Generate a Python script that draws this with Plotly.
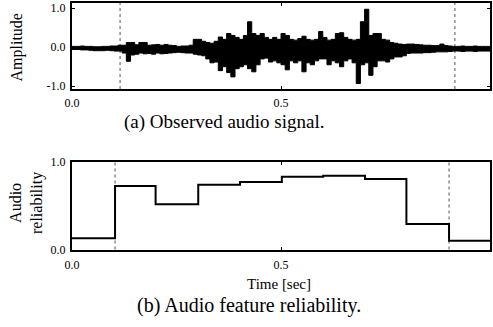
import plotly.graph_objects as go

# ---------------- data ----------------
# Observed audio signal: envelope, one bin every 0.01 s
bin_start = [round(i * 0.01, 2) for i in range(100)]
upper = [0.02, 0.02, 0.03, 0.02, 0.02, 0.01, 0.01, 0.02, 0.02, 0.03,
         0.03, 0.05, 0.05, 0.12, 0.12, 0.06, 0.12, 0.12, 0.05, 0.06,
         0.07, 0.05, 0.07, 0.05, 0.04, 0.02, 0.03, 0.03, 0.05, 0.20,
         0.20, 0.15, 0.12, 0.10, 0.15, 0.26, 0.20, 0.35, 0.30, 0.25,
         0.20, 0.30, 0.65, 0.35, 0.30, 0.35, 0.25, 0.20, 0.25, 0.20,
         0.35, 0.30, 0.20, 0.18, 0.22, 0.28, 0.20, 0.18, 0.20, 0.40,
         0.25, 0.18, 0.20, 0.35, 0.37, 0.25, 0.20, 0.18, 0.20, 0.65,
         0.97, 0.30, 0.35, 0.35, 0.20, 0.18, 0.12, 0.10, 0.08, 0.07,
         0.08, 0.08, 0.07, 0.06, 0.05, 0.05, 0.04, 0.04, 0.08, 0.04,
         0.03, 0.02, 0.02, 0.03, 0.02, 0.02, 0.03, 0.02, 0.02, 0.02]
lower = [-0.06, -0.06, -0.07, -0.07, -0.08, -0.09, -0.09, -0.09, -0.08, -0.09,
         -0.10, -0.10, -0.15, -0.36, -0.20, -0.18, -0.15, -0.17, -0.16, -0.18,
         -0.15, -0.17, -0.16, -0.15, -0.14, -0.13, -0.14, -0.15, -0.15, -0.18,
         -0.20, -0.22, -0.30, -0.40, -0.38, -0.60, -0.50, -0.65, -0.76, -0.55,
         -0.50, -0.45, -0.55, -0.63, -0.45, -0.30, -0.28, -0.38, -0.35, -0.40,
         -0.45, -0.58, -0.35, -0.40, -0.35, -0.63, -0.40, -0.45, -0.35, -0.30,
         -0.30, -0.45, -0.35, -0.40, -0.50, -0.35, -0.30, -0.40, -0.93, -0.45,
         -0.40, -0.72, -0.50, -0.35, -0.35, -0.38, -0.30, -0.25, -0.25, -0.22,
         -0.16, -0.15, -0.15, -0.15, -0.14, -0.14, -0.13, -0.12, -0.12, -0.12,
         -0.11, -0.10, -0.10, -0.11, -0.10, -0.10, -0.11, -0.10, -0.10, -0.10]

# Audio feature reliability (step function)
step_edges = [0.0, 0.103, 0.20, 0.302, 0.402, 0.502, 0.601, 0.701, 0.80, 0.902, 1.0]
reliability = [0.128, 0.726, 0.517, 0.74, 0.771, 0.832, 0.843, 0.806, 0.291, 0.10]

# speech boundary markers (dotted lines)
top_markers = [0.115, 0.916]
bottom_markers = [0.103, 0.902]

x_ticks = [0.0, 0.5, 1.0]
x_tick_text = ["0.0", "0.5", "1.0"]
amp_ticks = [1.0, 0.0, -1.0]
amp_tick_text = ["1.0", "0.0", "-1.0"]
rel_ticks = [1.0, 0.0]
rel_tick_text = ["1.0", "0.0"]

# ---------------- build ----------------
W, H = 493, 327
FONT = "Liberation Serif"

# envelope as step curves, closing at t = 1.0
ex = bin_start + [1.0]
eu = upper + [upper[-1]]
el = lower + [lower[-1]]

sx = step_edges
sy = reliability + [reliability[-1]]

fig = go.Figure()
fig.add_trace(go.Scatter(x=ex, y=el, mode="lines", line=dict(color="black", width=1, shape="hv"),
                         xaxis="x", yaxis="y", showlegend=False, hoverinfo="skip"))
fig.add_trace(go.Scatter(x=ex, y=eu, mode="lines", line=dict(color="black", width=1, shape="hv"),
                         fill="tonexty", fillcolor="black",
                         xaxis="x", yaxis="y", showlegend=False, hoverinfo="skip"))
fig.add_trace(go.Scatter(x=sx, y=sy, mode="lines", line=dict(color="black", width=2, shape="hv"),
                         xaxis="x2", yaxis="y2", showlegend=False, hoverinfo="skip"))

for m in top_markers:
    fig.add_shape(type="line", xref="x", yref="y domain", x0=m, x1=m, y0=0, y1=1,
                  line=dict(color="#555", width=1, dash="dot"), layer="below")
for m in bottom_markers:
    fig.add_shape(type="line", xref="x2", yref="y2 domain", x0=m, x1=m, y0=0, y1=1,
                  line=dict(color="#555", width=1, dash="dot"), layer="below")

def py(px):
    return 1 - px / H

def pxx(px):
    return px / W

axis_common = dict(showline=True, mirror="ticks", linecolor="black", linewidth=2,
                   ticks="inside", ticklen=3, tickcolor="black", showgrid=False,
                   zeroline=False, automargin=False,
                   tickfont=dict(family=FONT, size=12, color="black"))

fig.update_layout(
    width=W, height=H, margin=dict(l=0, r=0, t=0, b=0),
    paper_bgcolor="white", plot_bgcolor="white",
    font=dict(family=FONT, color="black"),
    xaxis=dict(domain=[pxx(72), pxx(490)], range=[0, 1], anchor="y",
               tickvals=x_ticks, ticktext=x_tick_text, ticklabelstandoff=2, **axis_common),
    yaxis=dict(domain=[py(89), py(3)], range=[-1.07, 1.13], anchor="x",
               tickvals=amp_ticks, ticktext=amp_tick_text, ticklabelstandoff=2, **axis_common),
    xaxis2=dict(domain=[pxx(72), pxx(490)], range=[0, 1], anchor="y2",
                tickvals=x_ticks, ticktext=x_tick_text, ticklabelstandoff=3, **axis_common),
    yaxis2=dict(domain=[py(249.5), py(162)], range=[0, 1], anchor="x2",
                tickvals=rel_ticks, ticktext=rel_tick_text, ticklabelstandoff=2, **axis_common),
)

def label(text, x, y, size, angle=0):
    fig.add_annotation(text=text, x=pxx(x), y=py(y), textangle=angle,
                       xanchor="center", yanchor="middle",
                       font=dict(family=FONT, size=size, color="black"),
                       showarrow=False, xref="paper", yref="paper")

label("Amplitude", 16.5, 48, 16, -90)
label("Audio<br>reliability", 26, 203, 16, -90)
label("(a) Observed audio signal.", 224, 121.5, 19)
label("Time [sec]", 279, 283.5, 15)
label("(b) Audio feature reliability.", 249, 305, 20)

fig.write_html("out.html", config={"displayModeBar": False},
               post_script="document.body.style.margin='0px';")
